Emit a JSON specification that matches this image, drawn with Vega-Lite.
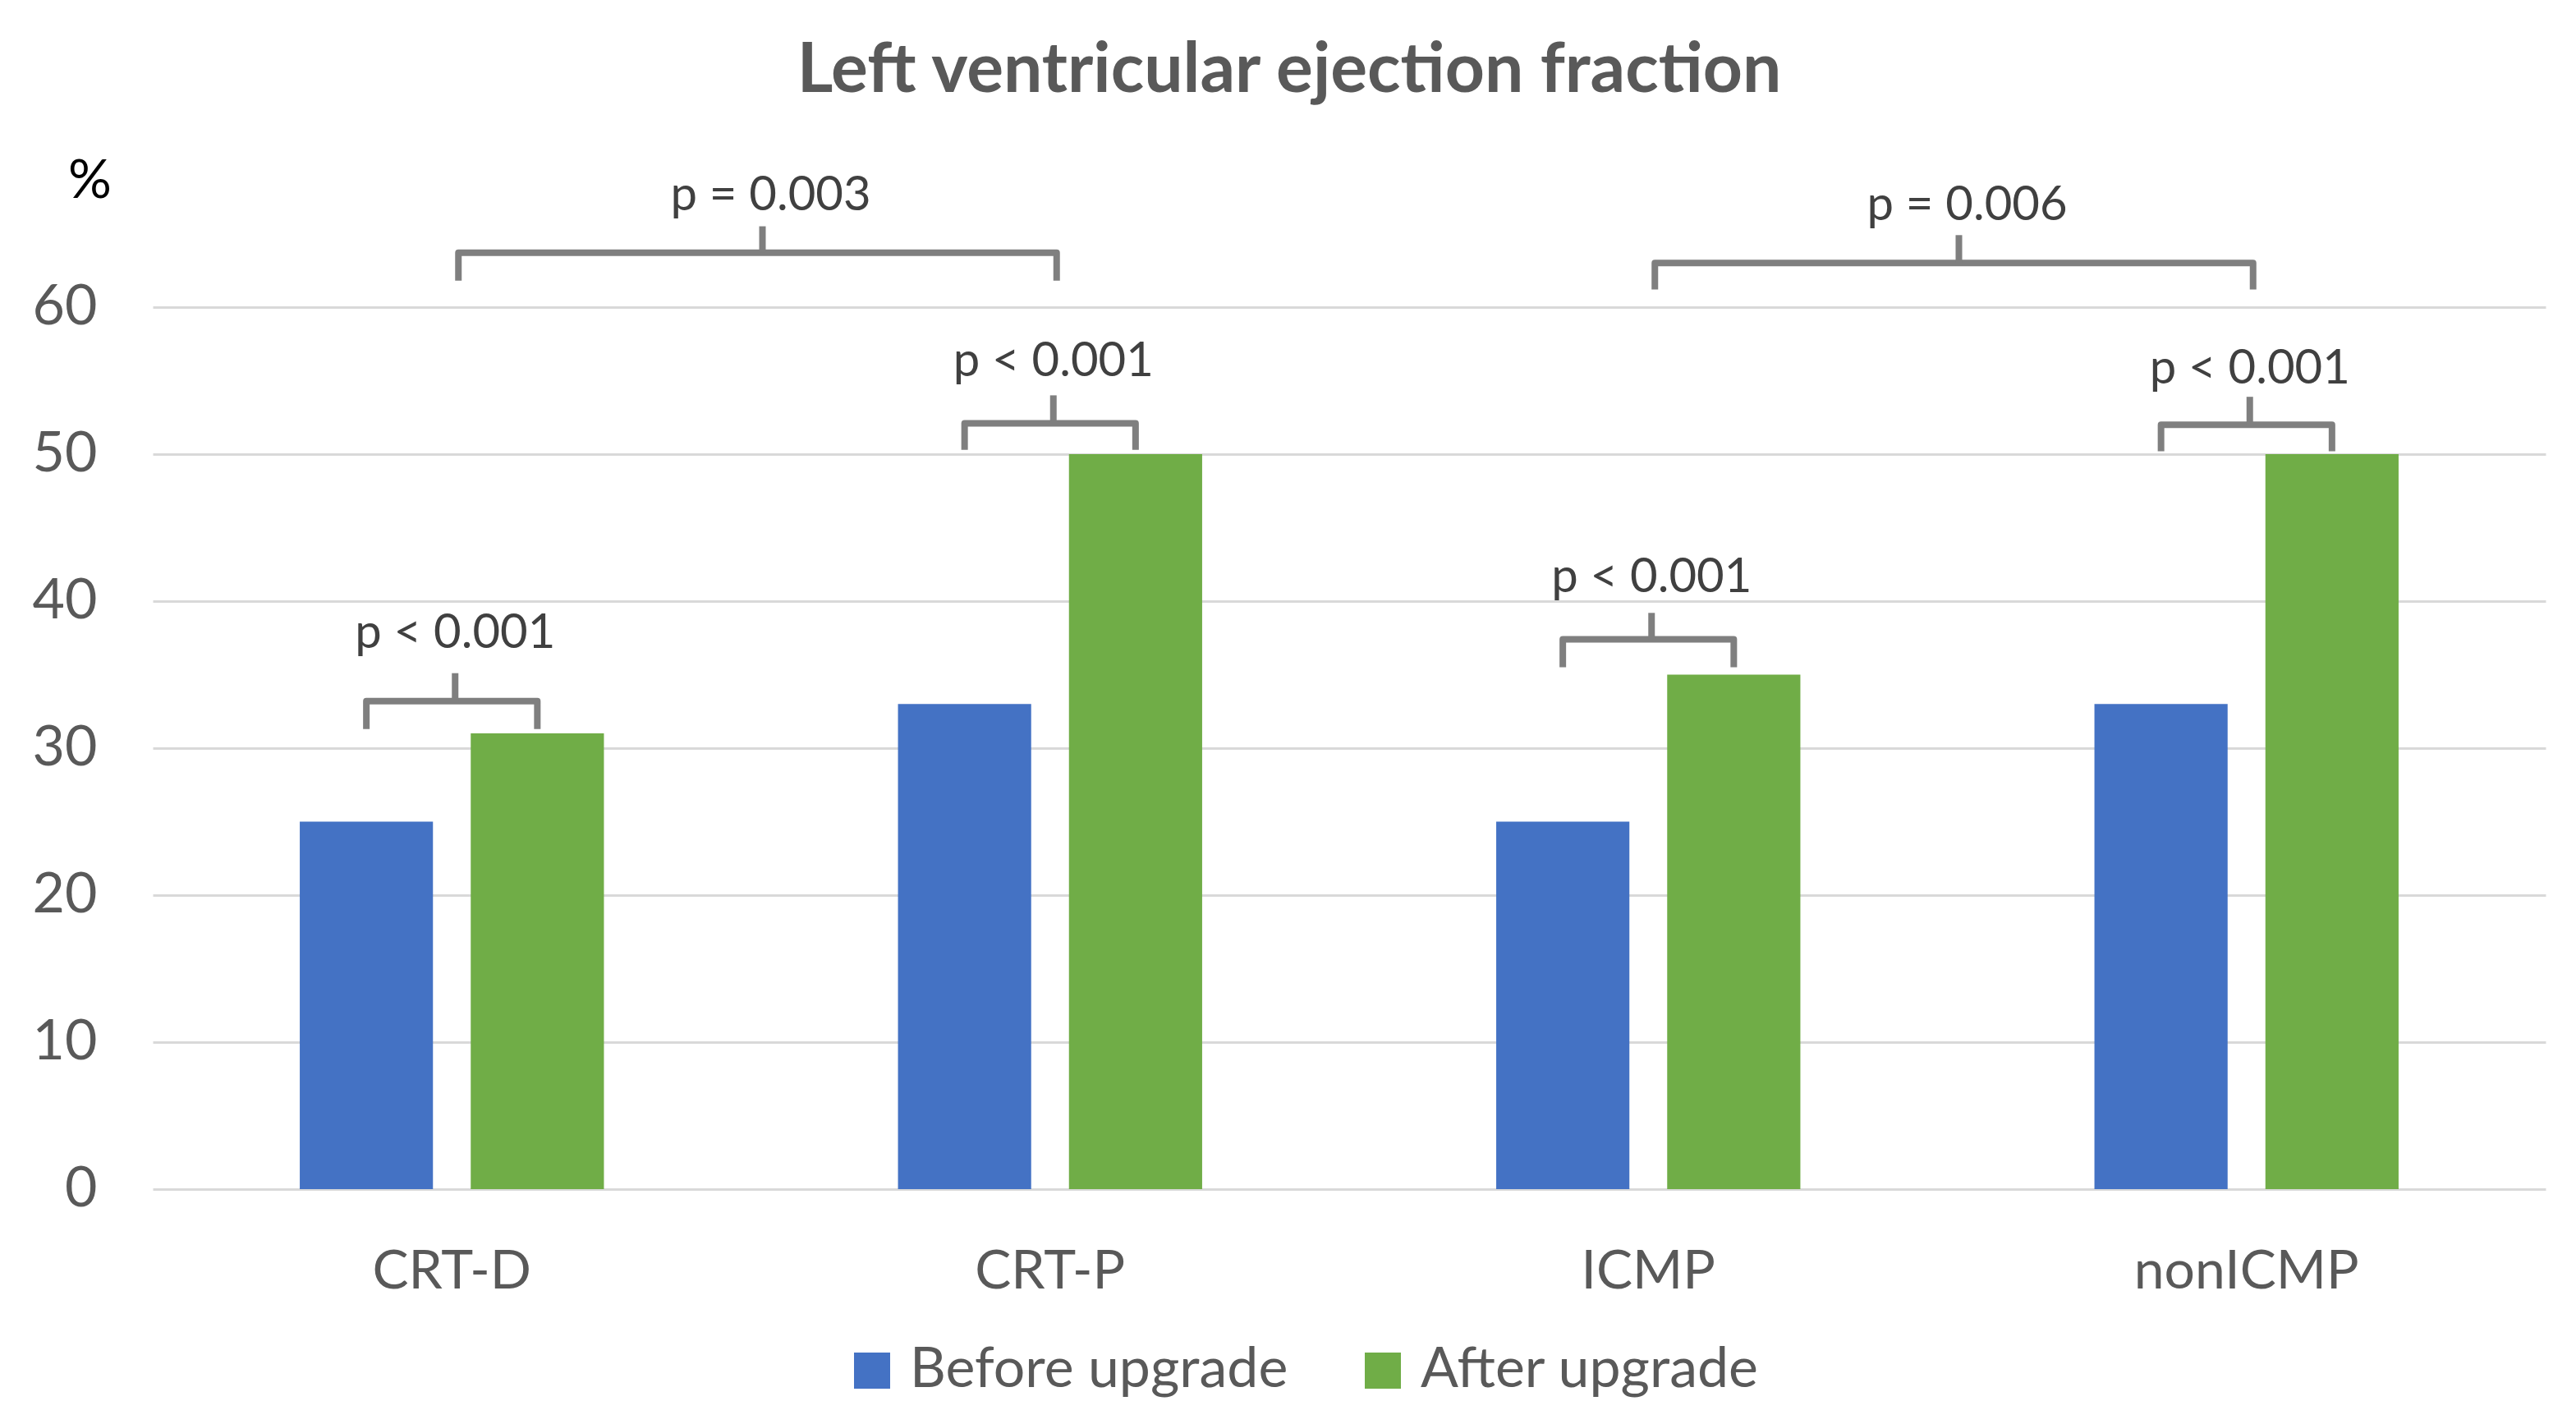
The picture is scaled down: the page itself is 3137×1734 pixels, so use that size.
{
  "$schema": "https://vega.github.io/schema/vega-lite/v6.json",
  "width": 2914,
  "height": 1074,
  "autosize": {"type": "none"},
  "padding": {"left": 186, "top": 374, "right": 37, "bottom": 286},
  "background": "white",
  "title": {
    "text": "Left ventricular ejection fraction",
    "font": "Lato",
    "fontSize": 84,
    "fontWeight": "bold",
    "color": "#595959",
    "anchor": "middle",
    "frame": "group",
    "dx": -73,
    "baseline": "alphabetic",
    "offset": -9
  },
  "config": {
    "view": {"stroke": null},
    "font": "Lato"
  },
  "datasets": {
    "bars": [
      {"group": "CRT-D", "phase": "Before upgrade", "value": 25},
      {"group": "CRT-D", "phase": "After upgrade", "value": 31},
      {"group": "CRT-P", "phase": "Before upgrade", "value": 33},
      {"group": "CRT-P", "phase": "After upgrade", "value": 50},
      {"group": "ICMP", "phase": "Before upgrade", "value": 25},
      {"group": "ICMP", "phase": "After upgrade", "value": 35},
      {"group": "nonICMP", "phase": "Before upgrade", "value": 33},
      {"group": "nonICMP", "phase": "After upgrade", "value": 50}
    ],
    "smallBracket": [
      {"group": "CRT-D", "phase": "Before upgrade", "y": 31.3, "k": 1},
      {"group": "CRT-D", "phase": "Before upgrade", "y": 33.2, "k": 2},
      {"group": "CRT-D", "phase": "After upgrade", "y": 33.2, "k": 3},
      {"group": "CRT-D", "phase": "After upgrade", "y": 31.3, "k": 4},
      {"group": "CRT-P", "phase": "Before upgrade", "y": 50.3, "k": 1},
      {"group": "CRT-P", "phase": "Before upgrade", "y": 52.1, "k": 2},
      {"group": "CRT-P", "phase": "After upgrade", "y": 52.1, "k": 3},
      {"group": "CRT-P", "phase": "After upgrade", "y": 50.3, "k": 4},
      {"group": "ICMP", "phase": "Before upgrade", "y": 35.5, "k": 1},
      {"group": "ICMP", "phase": "Before upgrade", "y": 37.4, "k": 2},
      {"group": "ICMP", "phase": "After upgrade", "y": 37.4, "k": 3},
      {"group": "ICMP", "phase": "After upgrade", "y": 35.5, "k": 4},
      {"group": "nonICMP", "phase": "Before upgrade", "y": 50.2, "k": 1},
      {"group": "nonICMP", "phase": "Before upgrade", "y": 52.0, "k": 2},
      {"group": "nonICMP", "phase": "After upgrade", "y": 52.0, "k": 3},
      {"group": "nonICMP", "phase": "After upgrade", "y": 50.2, "k": 4}
    ],
    "smallTick": [
      {"group": "CRT-D", "h": 33.2, "top": 35.1, "label": "p < 0.001", "ly": 36.8},
      {"group": "CRT-P", "h": 52.1, "top": 54.0, "label": "p < 0.001", "ly": 55.3},
      {"group": "ICMP", "h": 37.4, "top": 39.2, "label": "p < 0.001", "ly": 40.6},
      {"group": "nonICMP", "h": 52.0, "top": 53.9, "label": "p < 0.001", "ly": 54.8}
    ],
    "bigBracket": [
      {"pair": "device", "group": "CRT-D", "y": 61.8, "k": 1},
      {"pair": "device", "group": "CRT-D", "y": 63.7, "k": 2},
      {"pair": "device", "group": "CRT-P", "y": 63.7, "k": 3},
      {"pair": "device", "group": "CRT-P", "y": 61.8, "k": 4},
      {"pair": "cmp", "group": "ICMP", "y": 61.2, "k": 1},
      {"pair": "cmp", "group": "ICMP", "y": 63.0, "k": 2},
      {"pair": "cmp", "group": "nonICMP", "y": 63.0, "k": 3},
      {"pair": "cmp", "group": "nonICMP", "y": 61.2, "k": 4}
    ],
    "bigTick": [
      {"group": "CRT-P", "h": 63.7, "top": 65.5, "label": "p = 0.003", "ly": 66.6},
      {"group": "nonICMP", "h": 63.0, "top": 64.9, "label": "p = 0.006", "ly": 65.9}
    ]
  },
  "layer": [
    {
      "data": {"name": "bars"},
      "mark": {"type": "bar"},
      "encoding": {
        "x": {
          "field": "group",
          "type": "nominal",
          "sort": ["CRT-D", "CRT-P", "ICMP", "nonICMP"],
          "scale": {"paddingInner": 0, "paddingOuter": 0},
          "axis": {
            "title": null,
            "domain": false,
            "ticks": false,
            "tickSize": 0,
            "labelAngle": 0,
            "labelFont": "Lato",
            "labelFontSize": 66,
            "labelColor": "#595959",
            "labelBaseline": "alphabetic",
            "labelPadding": 120,
            "labelLimit": 1000
          }
        },
        "xOffset": {
          "field": "phase",
          "type": "nominal",
          "sort": ["Before upgrade", "After upgrade"],
          "scale": {"paddingInner": 0.221, "paddingOuter": 0.86}
        },
        "y": {
          "field": "value",
          "type": "quantitative",
          "scale": {"domain": [0, 60], "nice": false},
          "axis": {
            "values": [0, 10, 20, 30, 40, 50, 60],
            "title": "%",
            "titleAngle": 0,
            "titleFont": "Lato",
            "titleFontSize": 66,
            "titleFontWeight": "normal",
            "titleColor": "#000000",
            "titleAlign": "center",
            "titleBaseline": "alphabetic",
            "titleX": -77,
            "titleY": -134,
            "domain": false,
            "ticks": false,
            "tickSize": 0,
            "grid": true,
            "gridColor": "#d9d9d9",
            "gridWidth": 3,
            "labelFont": "Lato",
            "labelFontSize": 68,
            "labelColor": "#595959",
            "labelPadding": 68
          }
        },
        "color": {
          "field": "phase",
          "type": "nominal",
          "scale": {"domain": ["Before upgrade", "After upgrade"], "range": ["#4472C4", "#70AD47"]},
          "legend": {
            "title": null,
            "orient": "none",
            "direction": "horizontal",
            "legendX": 842,
            "legendY": 1261,
            "padding": 0,
            "symbolType": "square",
            "symbolSize": 1936,
            "symbolStrokeWidth": 0,
            "symbolOpacity": 1,
            "labelFont": "Lato",
            "labelFontSize": 68,
            "labelColor": "#595959",
            "labelOffset": 12,
            "columnPadding": 81,
            "labelLimit": 1000
          }
        }
      }
    },
    {
      "data": {"name": "smallBracket"},
      "mark": {"type": "line", "color": "#7F7F7F", "strokeWidth": 8, "strokeJoin": "round", "strokeCap": "butt"},
      "encoding": {
        "x": {"field": "group", "type": "nominal", "sort": ["CRT-D", "CRT-P", "ICMP", "nonICMP"]},
        "xOffset": {"field": "phase", "type": "nominal", "sort": ["Before upgrade", "After upgrade"]},
        "y": {"field": "y", "type": "quantitative"},
        "detail": {"field": "group"},
        "order": {"field": "k", "type": "quantitative"}
      }
    },
    {
      "data": {"name": "smallTick"},
      "mark": {"type": "rule", "color": "#7F7F7F", "strokeWidth": 8, "strokeCap": "butt", "xOffset": 4},
      "encoding": {
        "x": {"field": "group", "type": "nominal", "sort": ["CRT-D", "CRT-P", "ICMP", "nonICMP"]},
        "y": {"field": "h", "type": "quantitative"},
        "y2": {"field": "top"}
      }
    },
    {
      "data": {"name": "smallTick"},
      "mark": {"type": "text", "font": "Lato", "fontSize": 58, "color": "#404040", "align": "center", "baseline": "alphabetic", "xOffset": 4},
      "encoding": {
        "x": {"field": "group", "type": "nominal", "sort": ["CRT-D", "CRT-P", "ICMP", "nonICMP"]},
        "y": {"field": "ly", "type": "quantitative"},
        "text": {"field": "label"}
      }
    },
    {
      "data": {"name": "bigBracket"},
      "mark": {"type": "line", "color": "#7F7F7F", "strokeWidth": 8, "strokeJoin": "round", "strokeCap": "butt", "xOffset": 8},
      "encoding": {
        "x": {"field": "group", "type": "nominal", "sort": ["CRT-D", "CRT-P", "ICMP", "nonICMP"]},
        "y": {"field": "y", "type": "quantitative"},
        "detail": {"field": "pair"},
        "order": {"field": "k", "type": "quantitative"}
      }
    },
    {
      "data": {"name": "bigTick"},
      "mark": {"type": "rule", "color": "#7F7F7F", "strokeWidth": 8, "strokeCap": "butt", "xOffset": 14},
      "encoding": {
        "x": {"field": "group", "type": "nominal", "sort": ["CRT-D", "CRT-P", "ICMP", "nonICMP"], "bandPosition": 0},
        "y": {"field": "h", "type": "quantitative"},
        "y2": {"field": "top"}
      }
    },
    {
      "data": {"name": "bigTick"},
      "mark": {"type": "text", "font": "Lato", "fontSize": 58, "color": "#404040", "align": "center", "baseline": "alphabetic", "xOffset": 24},
      "encoding": {
        "x": {"field": "group", "type": "nominal", "sort": ["CRT-D", "CRT-P", "ICMP", "nonICMP"], "bandPosition": 0},
        "y": {"field": "ly", "type": "quantitative"},
        "text": {"field": "label"}
      }
    }
  ]
}
